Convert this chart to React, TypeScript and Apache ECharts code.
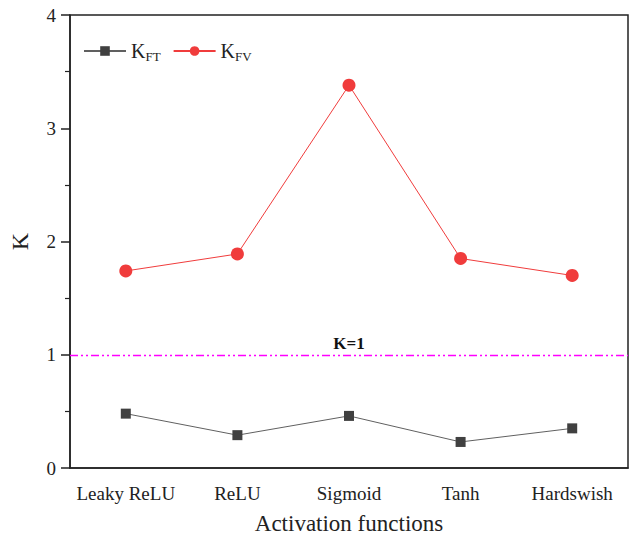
import React, { useEffect, useRef } from "react";
import * as echarts from "echarts";

const categories = ["Leaky ReLU", "ReLU", "Sigmoid", "Tanh", "Hardswish"];
const kft = [0.48, 0.29, 0.46, 0.23, 0.35];
const kfv = [1.74, 1.89, 3.38, 1.85, 1.7];
const yTicks = [0, 1, 2, 3, 4];
const refValue = 1;

const FONT = "Liberation Serif";

export default function App() {
  const ref = useRef<HTMLDivElement>(null);
  useEffect(() => {
    const chart = echarts.init(ref.current!, undefined, { renderer: "svg" });
    chart.setOption({
      animation: false,
      backgroundColor: "#ffffff",
      textStyle: { fontFamily: FONT },
      grid: {
        left: 66,
        right: 2,
        top: 15,
        bottom: 70,
        show: true,
        borderColor: "#222",
        borderWidth: 1.5,
        backgroundColor: "transparent",
      },
      legend: {
        left: 78,
        top: 36,
        itemWidth: 42,
        itemHeight: 12,
        itemGap: 12,
        data: ["KFT", "KFV"],
        formatter: (name: string) => `{k|K}{s|${name.slice(1)}}`,
        textStyle: {
          fontFamily: FONT,
          rich: {
            k: { fontFamily: FONT, fontSize: 20, color: "#222" },
            s: { fontFamily: FONT, fontSize: 13, color: "#222", padding: [10, 0, 0, 0] },
          },
        },
      },
      xAxis: {
        type: "category",
        data: categories,
        boundaryGap: true,
        name: "Activation functions",
        nameLocation: "middle",
        nameGap: 44,
        nameTextStyle: { fontFamily: FONT, fontSize: 23, color: "#222" },
        axisLine: { lineStyle: { color: "#222", width: 1.5 } },
        axisTick: { alignWithLabel: true, interval: 0, length: 8, lineStyle: { color: "#222", width: 1.5 } },
        axisLabel: { interval: 0, fontFamily: FONT, fontSize: 19, color: "#222", margin: 16 },
        splitLine: { show: false },
      },
      yAxis: {
        type: "value",
        min: yTicks[0],
        max: yTicks[yTicks.length - 1],
        interval: 1,
        name: "K",
        nameLocation: "middle",
        nameGap: 38,
        nameRotate: 90,
        nameTextStyle: { fontFamily: FONT, fontSize: 24, color: "#222" },
        axisLine: { show: true, lineStyle: { color: "#222", width: 1.5 } },
        axisTick: { show: true, length: 9, lineStyle: { color: "#222", width: 1.5 } },
        minorTick: { show: true, splitNumber: 2, length: 5, lineStyle: { color: "#222", width: 1.2 } },
        axisLabel: { fontFamily: FONT, fontSize: 19, color: "#222", margin: 14 },
        splitLine: { show: false },
      },
      series: [
        {
          name: "KFT",
          type: "line",
          data: kft,
          symbol: "rect",
          symbolSize: 10,
          itemStyle: { color: "#404040" },
          lineStyle: { color: "#606060", width: 1 },
          z: 3,
        },
        {
          name: "KFV",
          type: "line",
          data: kfv,
          symbol: "circle",
          symbolSize: 13,
          itemStyle: { color: "#f03c3c" },
          lineStyle: { color: "#f03c3c", width: 1 },
          z: 3,
          markLine: {
            silent: true,
            symbol: "none",
            data: [
              {
                yAxis: refValue,
                lineStyle: { color: "#ff00ff", width: 1.3, type: [8, 3, 2, 3, 2, 3] },
              },
            ],
            itemStyle: { color: "#ff00ff" },
            lineStyle: { color: "#ff00ff", width: 1.3, type: [8, 3, 2, 3, 2, 3] },
            label: {
              show: true,
              position: "middle",
              formatter: "K=1",
              fontFamily: FONT,
              fontSize: 17,
              fontWeight: "bold",
              color: "#111",
              distance: 3,
            },
          },
        },
      ],
    });
    return () => chart.dispose();
  }, []);
  return <div ref={ref} style={{ width: 630, height: 540, position: "absolute", left: 0, top: 0 }} />;
}
